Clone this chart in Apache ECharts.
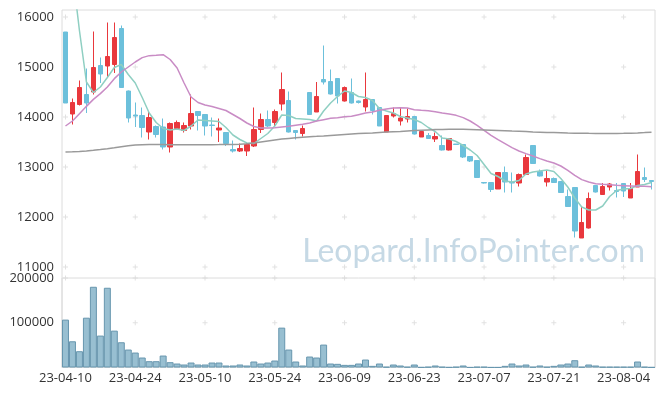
<!DOCTYPE html>
<html><head><meta charset="utf-8">
<script src="https://cdn.jsdelivr.net/npm/echarts@6/dist/echarts.min.js"></script>
<style>html,body{margin:0;padding:0;background:#fff}#c{width:665px;height:396px}</style>
</head><body><div id="c"></div><script>
const dates = ['23-04-10','23-04-11','23-04-12','23-04-13','23-04-14','23-04-17','23-04-18','23-04-19','23-04-20','23-04-21',
'23-04-24','23-04-25','23-04-26','23-04-27','23-04-28','23-05-02','23-05-03','23-05-04','23-05-08','23-05-09',
'23-05-10','23-05-11','23-05-12','23-05-15','23-05-16','23-05-17','23-05-18','23-05-19','23-05-22','23-05-23',
'23-05-24','23-05-25','23-05-26','23-05-30','23-05-31','23-06-01','23-06-02','23-06-05','23-06-07','23-06-08',
'23-06-09','23-06-12','23-06-13','23-06-14','23-06-15','23-06-16','23-06-19','23-06-20','23-06-21','23-06-22',
'23-06-23','23-06-26','23-06-27','23-06-28','23-06-29','23-06-30','23-07-03','23-07-04','23-07-05','23-07-06',
'23-07-07','23-07-10','23-07-11','23-07-12','23-07-13','23-07-14','23-07-17','23-07-18','23-07-19','23-07-20',
'23-07-21','23-07-24','23-07-25','23-07-26','23-07-27','23-07-28','23-07-31','23-08-01','23-08-02','23-08-03',
'23-08-04','23-08-07','23-08-08','23-08-09','23-08-10'];
const opens = [15700,14060,14250,14450,14500,15030,15020,15050,15770,14520,
14040,14030,13700,13810,13800,13400,13770,13730,13820,14110,
14050,13840,13740,13690,13350,13320,13320,13420,13750,13950,
13890,14260,14330,13730,13670,14490,14100,14750,14710,14770,
14320,14490,14320,14200,14350,14190,13700,14020,13920,13960,
14010,13600,13630,13560,13430,13340,13460,13450,13210,13130,
12690,12690,12560,12890,12690,12680,12850,13430,12910,12700,
12770,12710,12410,12590,11580,11780,12630,12450,12600,12530,
12670,12380,12600,12790,12730];
const closes = [14280,14290,14590,14280,14990,14860,15210,15590,14590,13980,
14020,13790,13990,13650,13400,13870,13890,13830,14070,14030,
13820,13830,13780,13470,13320,13370,13450,13750,13950,13820,
14110,14550,13700,13690,13770,14050,14410,14700,14460,14420,
14590,14280,14290,14350,14130,13820,14030,14070,13980,14010,
13660,13710,13570,13610,13340,13570,13450,13200,13120,12790,
12680,12550,12890,12700,12680,12850,13190,13070,12820,12770,
12690,12490,12210,11720,11890,12370,12500,12610,12660,12510,
12520,12570,12910,12750,12710];
const lows = [14280,13850,14230,14080,14450,14680,14780,14880,14590,13890,
13800,13590,13550,13590,13350,13290,13760,13690,13750,13730,
13630,13610,13500,13420,13290,13300,13220,13400,13680,13800,
13800,14130,13690,13550,13610,14040,14100,14650,14450,14270,
14310,14270,14270,14110,14050,13820,13700,13990,13830,13890,
13650,13600,13560,13500,13330,13330,13440,13180,13100,12790,
12670,12500,12560,12490,12490,12610,12840,13060,12810,12610,
12680,12490,12200,11590,11580,11770,12490,12440,12530,12390,
12400,12380,12600,12700,12550];
const highs = [15700,14370,14730,14970,15710,15190,15890,15890,15830,14530,
14290,14190,14100,13830,13970,13890,13930,13890,14450,14110,
14060,13990,13970,13690,13530,13470,13500,14190,14070,14130,
14150,14890,14510,13740,13830,14500,14700,15430,14950,14770,
14610,14770,14330,14890,14350,14200,14030,14190,14200,14170,
14010,13720,13680,13690,13630,13570,13460,13450,13210,13130,
12700,12700,12890,13010,12890,12870,13250,13430,12950,12930,
12790,12720,12550,12600,12200,12490,12630,12680,12680,12680,
12670,12680,13250,12990,12730];
const ma5 = [17800,16900,15730,14700,14490,14600,14790,14990,15050,14850,
14680,14390,14080,13890,13770,13740,13760,13730,13820,13940,
13930,13920,13910,13790,13640,13550,13480,13470,13570,13670,
13820,14040,14030,13970,13960,13950,13920,14120,14280,14410,
14520,14490,14410,14390,14330,14170,14120,14080,14010,13980,
13950,13890,13790,13710,13580,13560,13510,13430,13340,13230,
13050,12870,12810,12720,12700,12730,12860,12900,12920,12940,
12910,12770,12600,12380,12200,12140,12140,12220,12410,12530,
12560,12570,12630,12650,12690];
const ma20 = [13820,13920,14067,14213,14353,14467,14600,14767,14900,15000,
15100,15187,15227,15233,15247,15150,14980,14680,14400,14290,
14240,14210,14170,14130,14050,13970,13880,13810,13780,13780,
13787,13800,13813,13833,13853,13880,13920,13947,13973,13987,
14007,14013,14047,14080,14100,14133,14160,14180,14187,14180,
14147,14133,14127,14107,14080,14060,14033,13987,13920,13833,
13733,13633,13547,13467,13387,13320,13267,13220,13167,13120,
13080,13020,12933,12833,12747,12700,12667,12653,12647,12633,
12627,12620,12613,12613,12607];
const maLong = [13300,13305,13312,13322,13335,13350,13367,13385,13405,13425,
13440,13447,13450,13450,13448,13446,13445,13444,13444,13445,
13446,13447,13448,13450,13452,13456,13465,13480,13500,13520,
13540,13558,13572,13585,13595,13605,13613,13622,13632,13642,
13652,13660,13668,13675,13682,13690,13698,13705,13712,13720,
13728,13735,13742,13748,13752,13755,13755,13753,13750,13746,
13742,13737,13732,13727,13720,13714,13708,13702,13697,13692,
13688,13684,13680,13677,13675,13673,13672,13671,13671,13672,
13674,13677,13682,13688,13695];
const volumes = [107000,58600,36400,111300,180400,71300,178200,82400,56400,40100,
33400,22300,14100,14100,26700,11900,8900,6700,11100,6700,
6700,11100,11100,4500,4500,6700,4500,13400,8900,11100,
15600,89100,40100,13400,4500,24500,22300,51200,8900,8200,
5900,5900,8900,17800,3700,8900,1500,6700,4500,1500,
6700,500,1500,4500,1500,500,1500,4500,300,1500,
1500,300,300,3700,8900,4500,6700,1500,4500,1500,
3700,6700,8900,16300,1500,6700,4500,1500,1500,1500,
1500,1500,13400,1500,500];
const priceTicks = [11000,12000,13000,14000,15000,16000];
const volTicks = [100000,200000];
const markCats = [0,10,20,30,40,50,60,70,80];

const candleData = opens.map((o,i)=>[o, closes[i], lows[i], highs[i]]);
const pricePlus = [], volPlus = [];
markCats.forEach(c=>{ priceTicks.forEach(v=>pricePlus.push([c,v])); volTicks.forEach(v=>volPlus.push([c,v])); });
const plusPath = 'path://M2,0H3V2H5V3H3V5H2V3H0V2H2Z';
const FONT = '"Open Sans", "Noto Sans", sans-serif';
const plain = v => String(v);
const chart = echarts.init(document.getElementById('c'), null, {renderer:'canvas'});
chart.setOption({
  animation:false,
  backgroundColor:'#fff',
  textStyle:{fontFamily:FONT},
  grid:[
    {left:62, right:10, top:10, height:257, show:false},
    {left:62, right:10, top:278, height:89.5, show:true, borderColor:'#dcdcdc', borderWidth:1, backgroundColor:'transparent'},
    {left:62, right:10, top:10, height:357.5, show:true, borderColor:'#dcdcdc', borderWidth:1, backgroundColor:'transparent'}
  ],
  xAxis:[
    {type:'category', gridIndex:0, data:dates, boundaryGap:true, axisLine:{show:false}, axisTick:{show:false}, axisLabel:{show:false}, splitLine:{show:false}},
    {type:'category', gridIndex:1, data:dates, boundaryGap:true, axisLine:{show:false}, axisTick:{show:false},
      axisLabel:{interval:9, fontSize:13, color:'#333', margin:4, fontFamily:FONT}, splitLine:{show:false}},
    {type:'category', gridIndex:2, data:dates, show:false}
  ],
  yAxis:[
    {type:'value', gridIndex:0, min:11000, max:16140, interval:1000, axisLine:{show:false}, axisTick:{show:false}, splitLine:{show:false},
      axisLabel:{showMaxLabel:false, fontSize:13, color:'#333', margin:8, fontFamily:FONT, formatter:plain}},
    {type:'value', gridIndex:1, min:0, max:200000, interval:100000, axisLine:{show:false}, axisTick:{show:false}, splitLine:{show:false},
      axisLabel:{showMinLabel:false, fontSize:13, color:'#333', margin:8, fontFamily:FONT, formatter:plain}},
    {type:'value', gridIndex:2, show:false}
  ],
  graphic:[{
    type:'text', z:0, silent:true,
    style:{text:'Leopard.InfoPointer.com', x:645, y:252, align:'right', verticalAlign:'middle',
      font:'32px Lato, "Open Sans", sans-serif', fill:'#c6d9e5'}
  }],
  series:[
    {type:'scatter', xAxisIndex:0, yAxisIndex:0, data:pricePlus, symbol:plusPath, symbolSize:5, silent:true, z:1,
      itemStyle:{color:'#dadada'}},
    {type:'scatter', xAxisIndex:1, yAxisIndex:1, data:volPlus, symbol:plusPath, symbolSize:5, silent:true, z:1,
      itemStyle:{color:'#dadada'}},
    {type:'candlestick', xAxisIndex:0, yAxisIndex:0, data:candleData, barWidth:5, z:3,
      itemStyle:{color:'#e9383d', color0:'#6cc0db', borderColor:'#e9383d', borderColor0:'#6cc0db', borderWidth:1}},
    {type:'line', xAxisIndex:0, yAxisIndex:0, data:ma5, symbol:'none', clip:true, z:4,
      lineStyle:{color:'#8fcfc2', width:1.5}},
    {type:'line', xAxisIndex:0, yAxisIndex:0, data:ma20, symbol:'none', clip:true, z:4,
      lineStyle:{color:'#c98cc5', width:1.5}},
    {type:'line', xAxisIndex:0, yAxisIndex:0, data:maLong, symbol:'none', clip:true, z:4,
      lineStyle:{color:'#9a9a9a', width:1.5}},
    {type:'bar', xAxisIndex:1, yAxisIndex:1, data:volumes, barCategoryGap:'0%', z:3,
      itemStyle:{color:'#98bfd1', borderColor:'#6796ae', borderWidth:1}}
  ]
});
</script></body></html>
